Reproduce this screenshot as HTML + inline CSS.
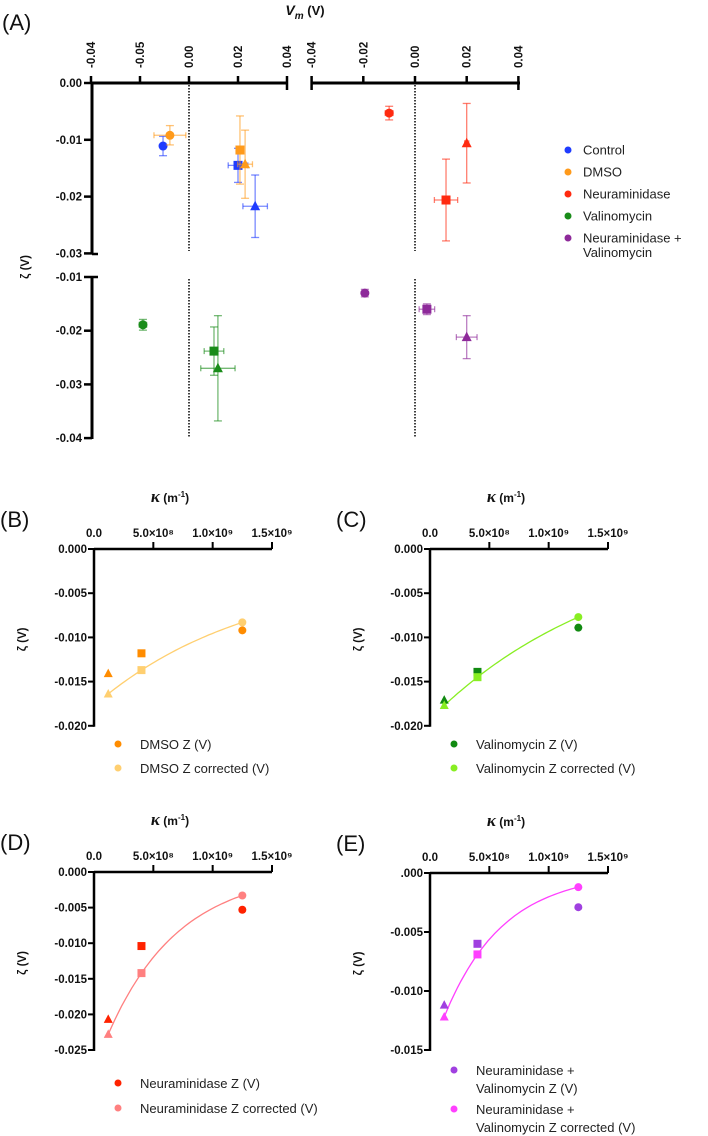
<!DOCTYPE html>
<html><head><meta charset="utf-8"><style>
body{margin:0;background:#fff;}
svg{display:block;font-family:"Liberation Sans",sans-serif;}
.tk{font-weight:bold;font-size:11.5px;fill:#111;}
.lg{font-size:13px;fill:#222;}
.pl{font-size:22px;fill:#111;}
</style></head><body>
<svg id="fig" width="708" height="1136" viewBox="0 0 708 1136"></svg>
<script>
// ---------- Panel A data ----------
const groupsA = ["Control","DMSO","Neuraminidase","Valinomycin","Neuraminidase + Valinomycin"];
const colorsA = ["#1f3cff","#ff9a1a","#ff2a10","#1a8c1a","#8e2a9a"];
const shapes = ["circle","square","triangle"];
const controlX = [-0.0106, 0.0200, 0.0270];
const controlY = [-0.0111, -0.0145, -0.0217];
const controlXE = [0.0008, 0.004, 0.005];
const controlYE = [0.0017, 0.0030, 0.0055];
const dmsoX = [-0.0078, 0.0208, 0.0229];
const dmsoY = [-0.0092, -0.0118, -0.0143];
const dmsoXE = [0.0065, 0.0008, 0.003];
const dmsoYE = [0.0017, 0.0060, 0.0060];
const neurX = [-0.0100, 0.0120, 0.0200];
const neurY = [-0.0053, -0.0206, -0.0106];
const neurXE = [0.0015, 0.0045, 0.0008];
const neurYE = [0.0012, 0.0072, 0.0070];
const valX = [-0.0188, 0.0102, 0.0118];
const valY = [-0.0189, -0.0238, -0.0270];
const valXE = [0.0015, 0.004, 0.0070];
const valYE = [0.0010, 0.0045, 0.0098];
const nvX = [-0.0194, 0.0046, 0.0200];
const nvY = [-0.0130, -0.0160, -0.0212];
const nvXE = [0.0010, 0.0030, 0.0040];
const nvYE = [0.0007, 0.0010, 0.0040];
const aLeftTicks = [-0.04,-0.02,0,0.02,0.04];
const aLeftTickLabels = ["-0.04","-0.05","0.00","0.02","0.04"];
const aRightTicks = [-0.04,-0.02,0,0.02,0.04];
const aRightTickLabels = ["-0.04","-0.02","0.00","0.02","0.04"];
const aTopYTicks = [0,-0.01,-0.02,-0.03];
const aTopYLabels = ["0.00","-0.01","-0.02","-0.03"];
const aBotYTicks = [-0.01,-0.02,-0.03,-0.04];
const aBotYLabels = ["-0.01","-0.02","-0.03","-0.04"];

// ---------- Panels B-E data ----------
const kappa = [1.2e8, 4.0e8, 1.25e9];
const kShapes = ["triangle","square","circle"];
const kTicks = [0, 5e8, 1e9, 1.5e9];
const kTickLabels = ["0.0","5.0×10⁸","1.0×10⁹","1.5×10⁹"];
const dmsoZ = [-0.0141, -0.0118, -0.0092];
const dmsoZc = [-0.0164, -0.0137, -0.0083];
const valZ = [-0.0171, -0.0139, -0.0089];
const valZc = [-0.0177, -0.0145, -0.0077];
const neurZ = [-0.0207, -0.0104, -0.0053];
const neurZc = [-0.0228, -0.0142, -0.0033];
const nvZ = [-0.0112, -0.0060, -0.0029];
const nvZc = [-0.0122, -0.0069, -0.0012];
const yTicksBC = [0,-0.005,-0.010,-0.015,-0.020];
const yLabelsBC = ["0.000","-0.005","-0.010","-0.015","-0.020"];
const yTicksD = [0,-0.005,-0.010,-0.015,-0.020,-0.025];
const yLabelsD = ["0.000","-0.005","-0.010","-0.015","-0.020","-0.025"];
const yTicksE = [0,-0.005,-0.010,-0.015];
const yLabelsE = [".000","-0.005","-0.010","-0.015"];

const NS="http://www.w3.org/2000/svg";
const svg=document.getElementById('fig');
function mk(tag,attrs,parent){const e=document.createElementNS(NS,tag);for(const k in attrs)e.setAttribute(k,attrs[k]);(parent||svg).appendChild(e);return e;}
function txt(x,y,s,cls,anchor,parent){const t=mk('text',{x:x,y:y,class:cls,'text-anchor':anchor||'start'},parent);t.textContent=s;return t;}
function marker(shape,cx,cy,r,fill,g){
  if(shape==="circle") return mk('circle',{cx:cx,cy:cy,r:r,fill:fill},g);
  if(shape==="square") return mk('rect',{x:cx-r,y:cy-r,width:2*r,height:2*r,fill:fill},g);
  return mk('polygon',{points:`${cx},${cy-r-1} ${cx-r-0.5},${cy+r-0.5} ${cx+r+0.5},${cy+r-0.5}`,fill:fill},g);
}

// ---------- Panel A ----------
const xL=v=>189+v/0.02*49;
const xR=v=>415+v/0.02*51.7;
const yT=v=>83-v/0.01*56.8;
const yB=v=>277+(-0.01-v)/0.01*53.7;
const gA=mk('g',{});


txt(2,30,"(A)","pl","start",gA);
const vm=mk('text',{x:305,y:15,class:'tk','text-anchor':'middle'},gA);


vm.innerHTML='<tspan font-style="italic" font-size="14">V</tspan><tspan font-style="italic" font-size="10" dy="4">m</tspan><tspan dy="-4" font-size="13"> (V)</tspan>';
function xAxisTop(sc,ticks,labels,x0,x1,name){
  const g=mk('g',{},gA);
  
  
  mk('line',{x1:x0,y1:83,x2:x1,y2:83,stroke:'#000','stroke-width':3},g);
  ticks.forEach((t,i)=>{const x=sc(t);
    const big=(i===ticks.length-1||(i===0&&name.includes('right')));
    mk('line',{x1:x,y1:big?76:76,x2:x,y2:big?90:83,stroke:'#000','stroke-width':2.5},g);
    const tt=txt(0,0,labels[i],'tk','start',g);tt.setAttribute('transform',`translate(${x+4},${68}) rotate(-90)`);
  });
}
xAxisTop(xL,aLeftTicks,aLeftTickLabels,92,288,'x-axis-left');
xAxisTop(xR,aRightTicks,aRightTickLabels,312,520,'x-axis-right');
function yAxis(sc,ticks,labels,y0,y1,name){
  const g=mk('g',{},gA);
  
  
  mk('line',{x1:92,y1:y0,x2:92,y2:y1,stroke:'#000','stroke-width':3},g);
  ticks.forEach((t,i)=>{const y=sc(t);
    mk('line',{x1:84,y1:y,x2:92,y2:y,stroke:'#000','stroke-width':2.5},g);
    txt(82,y+4,labels[i],'tk','end',g);});
}
yAxis(yT,aTopYTicks,aTopYLabels,82,254,'y-axis-top');
mk('line',{x1:92,y1:254,x2:98,y2:254,stroke:'#000','stroke-width':2.5},gA);
yAxis(yB,aBotYTicks,aBotYLabels,277,439,'y-axis-bottom');
mk('line',{x1:92,y1:277,x2:98,y2:277,stroke:'#000','stroke-width':2.5},gA);
const zl=txt(0,0,"ζ (V)","tk","middle",gA);zl.setAttribute('transform','translate(29,267) rotate(-90)');zl.setAttribute('font-size','13');

[[189],[415]].forEach(([x])=>{
  mk('line',{x1:x,y1:85,x2:x,y2:251,stroke:'#000','stroke-width':1.5,'stroke-dasharray':'1.5,1.5'},gA);
  mk('line',{x1:x,y1:279,x2:x,y2:437,stroke:'#000','stroke-width':1.5,'stroke-dasharray':'1.5,1.5'},gA);
});
const setsA=[
 [controlX,controlY,controlXE,controlYE,xL,yT],
 [dmsoX,dmsoY,dmsoXE,dmsoYE,xL,yT],
 [neurX,neurY,neurXE,neurYE,xR,yT],
 [valX,valY,valXE,valYE,xL,yB],
 [nvX,nvY,nvXE,nvYE,xR,yB]];
setsA.forEach((s,gi)=>{
  const [X,Y,XE,YE,sx,sy]=s;const c=colorsA[gi];
  const g=mk('g',{},gA);
  
  
  X.forEach((v,i)=>{
    const cx=sx(v),cy=sy(Y[i]);
    const x0=sx(v-XE[i]),x1=sx(v+XE[i]),y0=sy(Y[i]+YE[i]),y1=sy(Y[i]-YE[i]);
    const eb={stroke:c,'stroke-width':1.3,opacity:0.6};
    mk('line',Object.assign({x1:x0,y1:cy,x2:x1,y2:cy},eb),g);
    mk('line',Object.assign({x1:cx,y1:y0,x2:cx,y2:y1},eb),g);
    mk('line',Object.assign({x1:x0,y1:cy-3,x2:x0,y2:cy+3},eb),g);
    mk('line',Object.assign({x1:x1,y1:cy-3,x2:x1,y2:cy+3},eb),g);
    mk('line',Object.assign({x1:cx-4,y1:y0,x2:cx+4,y2:y0},eb),g);
    mk('line',Object.assign({x1:cx-4,y1:y1,x2:cx+4,y2:y1},eb),g);
    const m=marker(shapes[i],cx,cy,4.5,c,g);
    
    
  });
});
const legA=mk('g',{},gA);


const legAy=[150,172,194,216,238];
groupsA.forEach((n,i)=>{
  const e=mk('g',{},legA);
  
  
  mk('circle',{cx:568,cy:legAy[i],r:3.5,fill:colorsA[i]},e);
  if(i<4) txt(583,legAy[i]+4.5,n,'lg','start',e);
  else{txt(583,legAy[i]+4.5,"Neuraminidase +",'lg','start',e);txt(583,legAy[i]+19,"Valinomycin",'lg','start',e);}
});

// ---------- Panels B-E ----------
function expFit(X,Y){
  // y = a + b*exp(-c x), x in units of 1e9
  const x=X.map(v=>v/1e9);
  const target=(Y[1]-Y[0])/(Y[2]-Y[1]);
  const f=c=>(Math.exp(-c*x[0])-Math.exp(-c*x[1]))/(Math.exp(-c*x[1])-Math.exp(-c*x[2]));
  let lo=1e-4,hi=20;
  if(!(target>f(lo))){ // fallback quadratic
    return xx=>{let s=0;for(let i=0;i<3;i++){let p=Y[i];for(let j=0;j<3;j++)if(j!==i)p*=(xx-X[j])/(X[i]-X[j]);s+=p;}return s;};
  }
  for(let k=0;k<80;k++){const m=(lo+hi)/2;if(f(m)<target)lo=m;else hi=m;}
  const c=(lo+hi)/2;
  const b=(Y[1]-Y[0])/(Math.exp(-c*x[1])-Math.exp(-c*x[0]));
  const a=Y[0]-b*Math.exp(-c*x[0]);
  return xx=>a+b*Math.exp(-c*xx/1e9);
}
function kPanel(o){
  const g=mk('g',{});
  
  
  const x0=o.x0,W=178,y0=o.y0;
  const sx=v=>x0+v/1.5e9*W;
  const sy=v=>y0-v/o.step*o.px;
  txt(o.x0-94,o.y0-22,o.label,'pl','start',g);
  const kt=mk('text',{x:x0+76,y:y0-47,class:'tk','text-anchor':'middle'},g);
  
  
  kt.innerHTML='<tspan font-family="Liberation Serif" font-style="italic" font-size="17">κ</tspan><tspan font-size="12">  (m</tspan><tspan font-size="8" dy="-5">-1</tspan><tspan font-size="12" dy="5">)</tspan>';
  const ax=mk('g',{},g);
  
  
  const yEnd=sy(o.yt[o.yt.length-1]);
  mk('line',{x1:x0,y1:y0,x2:sx(1.5e9),y2:y0,stroke:'#000','stroke-width':2.5},ax);
  mk('line',{x1:x0,y1:y0-1,x2:x0,y2:yEnd+1,stroke:'#000','stroke-width':2.5},ax);
  kTicks.forEach((t,i)=>{const x=sx(t);
    if(i>0) mk('line',{x1:x,y1:y0-7,x2:x,y2:y0,stroke:'#000','stroke-width':2},ax);
    txt(x,y0-12,kTickLabels[i],'tk','middle',ax);});
  o.yt.forEach((t,i)=>{const y=sy(t);
    mk('line',{x1:x0-6,y1:y,x2:x0,y2:y,stroke:'#000','stroke-width':2},ax);
    txt(x0-7,y+4,o.yl[i],'tk','end',ax);});
  const zt=txt(0,0,"ζ (V)","tk","middle",g);zt.setAttribute('transform',`translate(${x0-68},${(y0+yEnd)/2+2}) rotate(-90)`);zt.setAttribute('font-size','13');
  
  const fn=expFit(kappa,o.zc);
  let d='';for(let k=0;k<=40;k++){const x=kappa[0]+(kappa[2]-kappa[0])*k/40;d+=(k?'L':'M')+sx(x).toFixed(1)+','+sy(fn(x)).toFixed(1);}
  const fit=mk('path',{d:d,fill:'none',stroke:o.c2,'stroke-width':1.3},g);
  
  
  [[o.z,o.c1],[o.zc,o.c2]].forEach(([arr,c],si)=>{
    arr.forEach((v,i)=>{const m=marker(kShapes[i],sx(kappa[i]),sy(v),4,c,g);
      
      });
  });
  const lg=mk('g',{},g);
  
  
  o.leg.forEach((L,i)=>{
    const e=mk('g',{},lg);
    
    
    mk('circle',{cx:x0+24,cy:L.y,r:3.5,fill:i?o.c2:o.c1},e);
    L.t.forEach((s,j)=>txt(x0+46,L.y+5+j*18,s,'lg','start',e));
  });
}
kPanel({name:'panel-b',label:'(B)',x0:94,y0:549,step:0.005,px:44.2,yt:yTicksBC,yl:yLabelsBC,z:dmsoZ,zc:dmsoZc,c1:'#ff8c00',c2:'#ffcf70',
  leg:[{y:744,t:["DMSO Z (V)"]},{y:768,t:["DMSO Z corrected (V)"]}]});
kPanel({name:'panel-c',label:'(C)',x0:430,y0:549,step:0.005,px:44.2,yt:yTicksBC,yl:yLabelsBC,z:valZ,zc:valZc,c1:'#118a11',c2:'#88ee22',
  leg:[{y:744,t:["Valinomycin Z (V)"]},{y:768,t:["Valinomycin Z corrected (V)"]}]});
kPanel({name:'panel-d',label:'(D)',x0:94,y0:872,step:0.005,px:35.6,yt:yTicksD,yl:yLabelsD,z:neurZ,zc:neurZc,c1:'#ff2200',c2:'#ff8080',
  leg:[{y:1083,t:["Neuraminidase Z (V)"]},{y:1108,t:["Neuraminidase Z corrected (V)"]}]});
kPanel({name:'panel-e',label:'(E)',x0:430,y0:873,step:0.005,px:59,yt:yTicksE,yl:yLabelsE,z:nvZ,zc:nvZc,c1:'#a040e0',c2:'#ff40ff',
  leg:[{y:1070,t:["Neuraminidase +","Valinomycin Z (V)"]},{y:1109,t:["Neuraminidase +","Valinomycin Z corrected (V)"]}]});
</script>
</body></html>
